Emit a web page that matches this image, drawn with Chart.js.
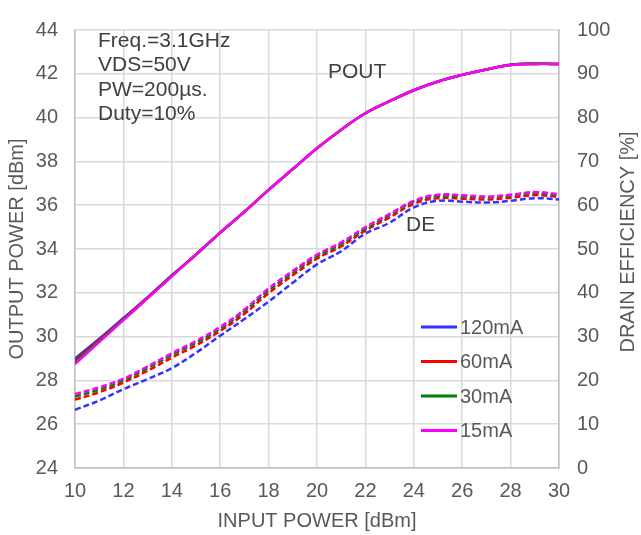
<!DOCTYPE html>
<html>
<head>
<meta charset="utf-8">
<script src="https://cdn.jsdelivr.net/npm/chart.js@4.4.0/dist/chart.umd.min.js"></script>
<style>
  body { margin: 0; background: #fff; }
  #wrap { width: 641px; height: 535px; }
</style>
</head>
<body>
<div id="wrap"><canvas id="chart" width="641" height="535"></canvas></div>
<script>
// input power sweep [dBm]
const pin = [10, 11, 12, 13, 14, 15, 16, 17, 18, 19, 20, 21, 22, 23, 24, 25, 26, 27, 28, 29, 30];
const biasLabels = ['120mA', '60mA', '30mA', '15mA'];
const colors = ['#3333ff', '#ff0000', '#008000', '#ff00ff'];

// output power [dBm]
const pout120 = [29.0, 29.9, 30.85, 31.8, 32.8, 33.75, 34.75, 35.7, 36.7, 37.65, 38.6, 39.45, 40.2, 40.75, 41.25, 41.65, 41.95, 42.2, 42.4, 42.45, 42.45];
const pout60  = [28.9, 29.85, 30.8, 31.78, 32.78, 33.75, 34.75, 35.7, 36.7, 37.65, 38.6, 39.45, 40.2, 40.75, 41.25, 41.65, 41.95, 42.2, 42.4, 42.45, 42.45];
const pout30  = [28.85, 29.8, 30.78, 31.76, 32.76, 33.74, 34.74, 35.7, 36.7, 37.65, 38.6, 39.45, 40.2, 40.75, 41.25, 41.65, 41.95, 42.2, 42.42, 42.47, 42.45];
const pout15  = [28.75, 29.75, 30.75, 31.75, 32.75, 33.75, 34.75, 35.7, 36.7, 37.65, 38.6, 39.45, 40.2, 40.75, 41.25, 41.65, 41.95, 42.2, 42.4, 42.45, 42.45];

// drain efficiency [%]
const de120 = [13.3, 15.4, 18.0, 20.3, 22.8, 26.3, 30.2, 34.0, 38.0, 42.3, 46.5, 49.5, 53.5, 56.0, 59.5, 61.0, 60.8, 60.6, 61.0, 61.6, 61.3];
const de60  = [15.6, 17.3, 19.5, 22.2, 25.2, 28.0, 31.3, 35.2, 39.9, 44.0, 47.8, 50.6, 54.2, 57.2, 60.3, 61.6, 61.5, 61.3, 61.7, 62.3, 61.9];
const de30  = [16.3, 17.9, 20.0, 22.8, 25.8, 28.6, 31.8, 35.8, 40.5, 44.6, 48.3, 51.1, 54.6, 57.7, 60.8, 62.1, 62.0, 61.8, 62.2, 62.8, 62.3];
const de15  = [16.9, 18.4, 20.4, 23.2, 26.2, 29.0, 32.2, 36.2, 41.0, 45.0, 48.7, 51.5, 55.0, 58.0, 61.0, 62.4, 62.3, 62.0, 62.4, 63.0, 62.5];

const poutAll = [pout120, pout60, pout30, pout15];
const deAll = [de120, de60, de30, de15];

const pts = arr => arr.map((v, i) => ({x: pin[i], y: v}));

// first dataset is drawn on top, so go from 15mA back to 120mA
const datasets = [];
for (let i = 3; i >= 0; i--) {
  datasets.push({
    label: biasLabels[i], data: pts(poutAll[i]), yAxisID: 'y',
    borderColor: colors[i], borderWidth: 2.5,
    pointRadius: 0, tension: 0.4, fill: false
  });
}
for (let i = 3; i >= 0; i--) {
  datasets.push({
    label: biasLabels[i] + ' DE', data: pts(deAll[i]), yAxisID: 'y2',
    borderColor: colors[i], borderWidth: 2.5, borderDash: [6, 3],
    pointRadius: 0, tension: 0.4, fill: false
  });
}

const textColor = '#595959';
const fam = 'Liberation Sans, Arial, sans-serif';
const font = {family: fam, size: 20};

const notes = {
  id: 'notes',
  afterDraw(chart) {
    const c = chart.ctx;
    c.save();
    c.font = '21px ' + fam;
    c.fillStyle = '#404040';
    c.textBaseline = 'middle';
    c.textAlign = 'left';
    ['Freq.=3.1GHz', 'VDS=50V', 'PW=200\u00b5s.', 'Duty=10%'].forEach((t, i) => {
      c.fillText(t, 98, 41 + i * 24.5);
    });
    c.fillText('POUT', 328, 72);
    c.fillText('DE', 406, 225);
    // legend
    c.font = '20px ' + fam;
    biasLabels.forEach((t, i) => {
      const y = 327 + i * 34.5;
      c.strokeStyle = colors[i];
      c.lineWidth = 3;
      c.beginPath();
      c.moveTo(421, y);
      c.lineTo(457, y);
      c.stroke();
      c.fillStyle = textColor;
      c.fillText(t, 460, y + 1);
    });
    // right axis title, reading bottom to top like the left one
    c.fillStyle = textColor;
    c.textAlign = 'center';
    c.translate(628, 242);
    c.rotate(-Math.PI / 2);
    c.fillText('DRAIN EFFICIENCY [%]', 0, 0);
    c.restore();
  }
};

new Chart(document.getElementById('chart').getContext('2d'), {
  type: 'line',
  data: {datasets: datasets},
  options: {
    responsive: false,
    animation: false,
    layout: {padding: {top: 17, left: 0, right: 0, bottom: 0}},
    plugins: {legend: {display: false}, tooltip: {enabled: false}},
    scales: {
      x: {
        type: 'linear', min: 10, max: 30,
        ticks: {stepSize: 2, color: textColor, font: font, padding: 11, maxRotation: 0},
        grid: {color: '#d9d9d9', lineWidth: 1.5, drawTicks: false},
        border: {color: '#bfbfbf', width: 1.5},
        title: {display: true, text: 'INPUT POWER [dBm]', color: textColor, font: font, padding: {top: 0, bottom: 2}},
        afterFit(s) { s.height = 67; }
      },
      y: {
        position: 'left', min: 24, max: 44,
        ticks: {stepSize: 2, color: textColor, font: font, padding: 17},
        grid: {color: '#d9d9d9', lineWidth: 1.5, drawTicks: false},
        border: {color: '#bfbfbf', width: 1.5},
        title: {display: true, text: 'OUTPUT POWER [dBm]', color: textColor, font: font, padding: {top: 5, bottom: 0}},
        afterFit(s) { s.width = 75; }
      },
      y2: {
        position: 'right', min: 0, max: 100,
        ticks: {stepSize: 10, color: textColor, font: font, padding: 18},
        grid: {display: false, drawTicks: false},
        border: {color: '#bfbfbf', width: 1.5},
        afterFit(s) { s.width = 82; }
      }
    }
  },
  plugins: [notes]
});
</script>
</body>
</html>
